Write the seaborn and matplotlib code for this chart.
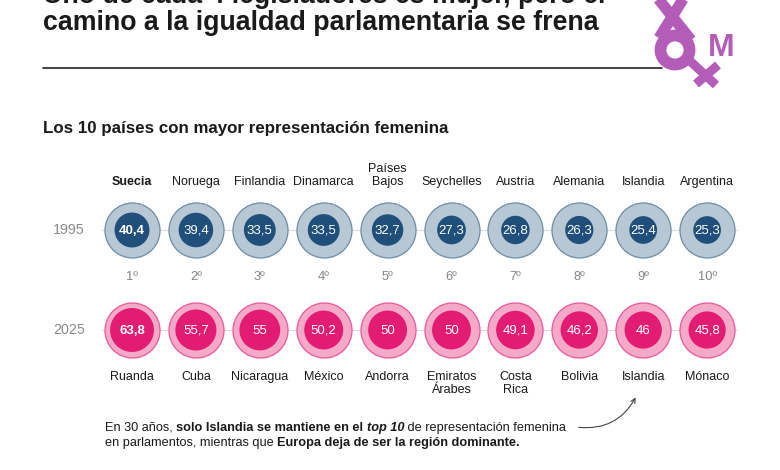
import matplotlib
matplotlib.use("Agg")
import matplotlib.pyplot as plt
from matplotlib.patches import Circle
import seaborn as sns
import pandas as pd

# data
countries_1995 = ["Suecia", "Noruega", "Finlandia", "Dinamarca", "Países\nBajos",
                  "Seychelles", "Austria", "Alemania", "Islandia", "Argentina"]
values_1995 = [40.4, 39.4, 33.5, 33.5, 32.7, 27.3, 26.8, 26.3, 25.4, 25.3]
countries_2025 = ["Ruanda", "Cuba", "Nicaragua", "México", "Andorra",
                  "Emiratos\nÁrabes", "Costa\nRica", "Bolivia", "Islandia", "Mónaco"]
values_2025 = [63.8, 55.7, 55, 50.2, 50, 50, 49.1, 46.2, 46, 45.8]
ranks = [1, 2, 3, 4, 5, 6, 7, 8, 9, 10]
years = ["1995", "2025"]

sns.set_theme(style="white")
plt.rcParams["font.family"] = ["Liberation Sans", "DejaVu Sans"]

fig = plt.figure(figsize=(7.8, 4.7), dpi=100)
ax = fig.add_axes([0, 0, 1, 1])
ax.set_xlim(0, 780)
ax.set_ylim(470, 0)
ax.axis("off")

# layout (pixels)
x0, step = 132, 63.9
row_y = {"1995": 230, "2025": 330}
outer_s = (2 * 27.5 * 0.72) ** 2

df = pd.DataFrame({
    "rank": ranks * 2,
    "year": ["1995"] * 10 + ["2025"] * 10,
    "country": countries_1995 + countries_2025,
    "value": values_1995 + values_2025,
})
df["x"] = x0 + step * (df["rank"] - 1)
df["y"] = df["year"].map(row_y)

styles = {
    "1995": dict(outer="#b8c7d4", edge="#6d8ca6", inner="#1f4f7a"),
    "2025": dict(outer="#f5a9c9", edge="#e9579a", inner="#e31c73"),
}

title_c = "#1a1a1a"
for yr in years:
    d = df[df["year"] == yr]
    st = styles[yr]
    y = row_y[yr]
    ax.plot([102, 737], [y, y], color="#dcdcdc", lw=0.8, zorder=1)
    sns.scatterplot(data=d, x="x", y="y", s=outer_s, color=st["outer"],
                    edgecolor=st["edge"], linewidth=0.9, ax=ax, zorder=2, legend=False)
    sns.scatterplot(data=d, x="x", y="y", size="value", sizes=(0, outer_s),
                    size_norm=(0, 100), color=st["inner"], edgecolor="none",
                    linewidth=0, ax=ax, zorder=3, legend=False)
    for i, r in enumerate(d.itertuples()):
        lbl = f"{r.value:g}".replace(".", ",")
        ax.text(r.x, r.y + 0.5, lbl, color="white", fontsize=9.5,
                fontweight="bold" if i == 0 else "normal",
                ha="center", va="center", zorder=4)
    ax.text(69, y, yr, color="#8a8a8a", fontsize=10.3, ha="center", va="center")

ax.set_xlabel("")
ax.set_ylabel("")

# country names
for i, name in enumerate(countries_1995):
    x = x0 + step * i
    ax.text(x, 188, name, ha="center", va="bottom", fontsize=9, color=title_c,
            fontweight="bold" if i == 0 else "normal", linespacing=1.15)
for i, name in enumerate(countries_2025):
    x = x0 + step * i
    ax.text(x, 371, name, ha="center", va="top", fontsize=9, color=title_c,
            linespacing=1.15)
for i, rk in enumerate(ranks):
    ax.text(x0 + step * i, 277, f"{rk}º", ha="center", va="center",
            fontsize=9.3, color="#858585")

# title (first line runs off the top edge, as in the source)
ax.text(43, 3, "Uno de cada 4 legisladores es mujer, pero el", fontsize=19.3,
        fontweight="bold", color=title_c, va="baseline")
ax.text(43, 30, "camino a la igualdad parlamentaria se frena", fontsize=19.3,
        fontweight="bold", color=title_c, va="baseline")
ax.plot([43, 662], [68, 68], color="#222222", lw=1.2)
ax.text(43, 129, "Los 10 países con mayor representación femenina", fontsize=12.2,
        fontweight="bold", color=title_c, va="center")

# logo
purple = "#b45db8"
ax.plot([656, 691], [-4, 40], color=purple, lw=8, solid_capstyle="butt")
ax.plot([685, 659], [-4, 38], color=purple, lw=8, solid_capstyle="butt")
ax.add_patch(Circle((675, 50), 14.5, fill=False, ec=purple, lw=8.5))
ax.plot([690, 716], [61, 85], color=purple, lw=6.5, solid_capstyle="butt")
ax.plot([696, 718], [84, 65], color=purple, lw=6.5, solid_capstyle="butt")
ax.text(721, 48, "M", fontsize=23, fontweight="bold",
        color=purple, ha="center", va="center")

# annotation with mixed weights
renderer = fig.canvas.get_renderer()


def rich_line(x, y, parts):
    for txt, weight, style in parts:
        t = ax.text(x, y, txt, fontsize=9.2, fontweight=weight, fontstyle=style,
                    color=title_c, va="baseline")
        x += t.get_window_extent(renderer).width
    return x


rich_line(105, 431, [("En 30 años, ", "normal", "normal"),
                     ("solo Islandia se mantiene en el ", "bold", "normal"),
                     ("top 10", "bold", "italic"),
                     (" de representación femenina", "normal", "normal")])
rich_line(105, 446, [("en parlamentos, mientras que ", "normal", "normal"),
                     ("Europa deja de ser la región dominante.", "bold", "normal")])
ax.annotate("", xy=(637, 395), xytext=(576, 427),
            arrowprops=dict(arrowstyle="->", connectionstyle="arc3,rad=0.35",
                            color="#444444", lw=0.8, mutation_scale=8))

fig.savefig("out.png", dpi=100, facecolor="white")
